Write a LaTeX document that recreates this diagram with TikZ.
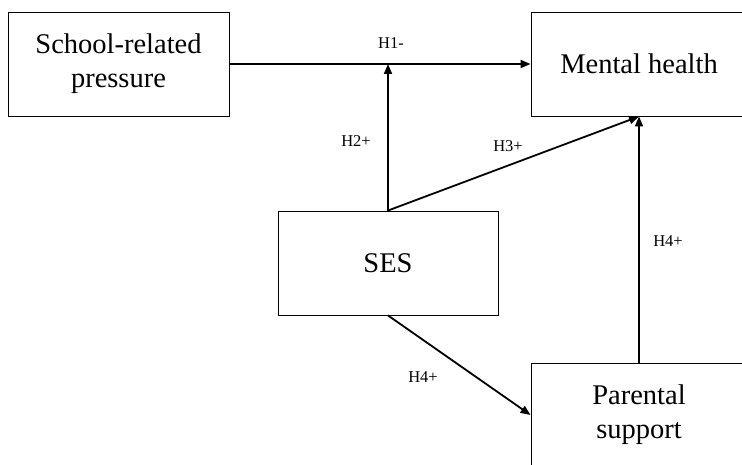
\documentclass[tikz,border=0pt]{standalone}
\usepackage{fontspec}
\setmainfont{Liberation Serif}
\usetikzlibrary{arrows.meta}
\begin{document}
\begin{tikzpicture}[x=1pt,y=-1pt,
  box/.style={draw, line width=0.9pt, align=center, inner sep=0pt,
    font=\fontsize{28.5}{34}\selectfont},
  arr/.style={line width=1.8pt, -{Triangle[length=10pt,width=8pt]}},
  lab/.style={font=\fontsize{16.5}{19}\selectfont, inner sep=0pt}]
\useasboundingbox (0,0) rectangle (742,465);
\clip (0,0) rectangle (742,465);
\node[box, minimum width=221pt, minimum height=104pt] (school) at (118.5,64) {School-related\\pressure};
\node[box, minimum width=216pt, minimum height=104pt] (ment) at (639,64) {Mental health};
\node[box, minimum width=220pt, minimum height=104pt] (ses) at (388,263) {SES};
\node[box, minimum width=216pt, minimum height=104pt] (par) at (639,415) {Parental\\support};
\coordinate (j) at (388,64);
\draw[arr] (school.east) -- (ment.west);
\draw[arr] (ses.north) -- (j);
\draw[arr] (ses.north) -- (ment.south);
\draw[arr] (par.north) -- (ment.south);
\draw[arr] (ses.south) -- (par.west);
\node[lab] (l1) at (391,43) {H1-};
\node[lab] (l2) at (356,141) {H2+};
\node[lab] (l3) at (508,146) {H3+};
\node[lab] (l4) at (668,241) {H4+};
\node[lab] (l5) at (423,377) {H4+};
\end{tikzpicture}
\end{document}
